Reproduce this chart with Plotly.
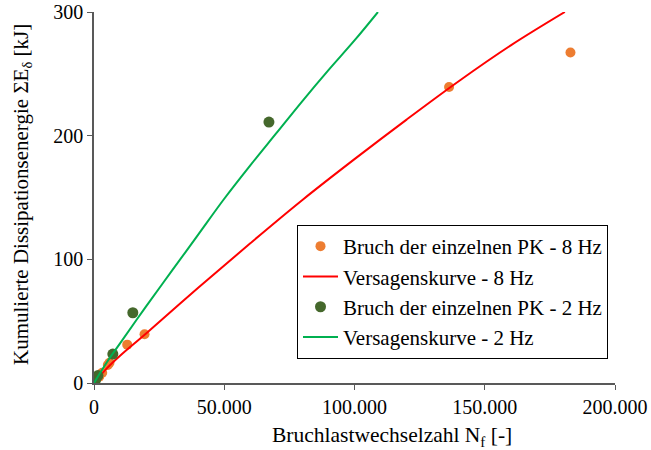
import plotly.graph_objects as go

# Data
pk8_x = [19400, 12750, 5950, 5300, 3150, 2000, 136300, 182900]
pk8_y = [39.4, 31, 16.4, 14.5, 8.3, 5, 239.3, 267.3]

curve8_x = [0, 5000, 10000, 20000, 40000, 60000, 80000, 100000, 120000, 140000, 160000, 180750]
curve8_y = [0, 12, 22, 40, 77, 113, 148, 181, 213, 244, 273, 300]

pk2_x = [67150, 14900, 7230, 1500, 850, 500, 200]
pk2_y = [211, 56.8, 23.4, 6, 4, 2, 1]

curve2_x = [0, 5000, 10000, 20000, 30000, 40000, 50000, 60000, 70000, 80000, 90000, 100000, 109000]
curve2_y = [0, 17, 32, 62, 91, 120, 149, 176, 202, 228, 253, 277, 300]

x_ticks = [0, 50000, 100000, 150000, 200000]
y_ticks = [0, 100, 200, 300]

FONT = "Liberation Serif"
AX = "#595959"
L, R, T, B = 94, 36, 12, 67
W, H = 651, 450

fig = go.Figure()
fig.add_trace(go.Scatter(x=pk8_x, y=pk8_y, mode="markers", name="Bruch der einzelnen PK - 8 Hz",
                         marker=dict(color="#ED7D31", size=10), legendgroup="a"))
fig.add_trace(go.Scatter(x=curve8_x, y=curve8_y, mode="lines", name="Versagenskurve - 8 Hz",
                         line=dict(color="#FF0000", width=2, shape="spline"), legendgroup="b"))
fig.add_trace(go.Scatter(x=pk2_x, y=pk2_y, mode="markers", name="Bruch der einzelnen PK - 2 Hz",
                         marker=dict(color="#45682C", size=11), legendgroup="c"))
fig.add_trace(go.Scatter(x=curve2_x, y=curve2_y, mode="lines", name="Versagenskurve - 2 Hz",
                         line=dict(color="#00B050", width=2, shape="spline"), legendgroup="d"))

pw = W - L - R
ph = H - T - B

fig.update_layout(
    width=W, height=H,
    margin=dict(l=L, r=R, t=T, b=B, autoexpand=False),
    paper_bgcolor="white", plot_bgcolor="white",
    separators=",.",
    font=dict(family=FONT, size=20, color="black"),
    showlegend=True,
    legend=dict(x=(297 - L) / pw, y=(H - B - 225) / ph, xanchor="left", yanchor="top",
                bordercolor="black", borderwidth=1, bgcolor="white",
                font=dict(family=FONT, size=21, color="black"),
                tracegroupgap=0, itemwidth=35),
    xaxis=dict(range=[0, 200000], tickvals=x_ticks, tickformat=",.0f", automargin=False,
               showgrid=False, zeroline=False, showline=True, linecolor=AX, linewidth=1.5,
               ticks="outside", tickcolor=AX, ticklen=5,
               tickfont=dict(family=FONT, size=20, color="black")),
    yaxis=dict(range=[0, 300], tickvals=y_ticks, automargin=False,
               showgrid=False, zeroline=False, showline=True, linecolor=AX, linewidth=1.5,
               ticks="outside", tickcolor=AX, ticklen=5,
               tickfont=dict(family=FONT, size=20, color="black")),
    annotations=[
        dict(text="Bruchlastwechselzahl N<sub>f</sub> [-]", xref="paper", yref="paper",
             x=(392 - L) / pw, y=-(436 - (H - B)) / ph, xanchor="center", yanchor="middle",
             showarrow=False, font=dict(family=FONT, size=21.5, color="black")),
        dict(text="Kumulierte Dissipationsenergie ΣE<sub>δ</sub> [kJ]", xref="paper", yref="paper",
             x=-(L - 22) / pw, y=(H - B - 195) / ph, xanchor="center", yanchor="middle",
             textangle=-90, showarrow=False, font=dict(family=FONT, size=21, color="black")),
    ],
)

fig.write_html("out.html", config={"displayModeBar": False})

# remove the browser's default body margin so the figure sits at the page origin
with open("out.html", "r", encoding="utf-8") as f:
    html = f.read()
html = html.replace("<body>", '<body style="margin:0;padding:0;">', 1)
with open("out.html", "w", encoding="utf-8") as f:
    f.write(html)
